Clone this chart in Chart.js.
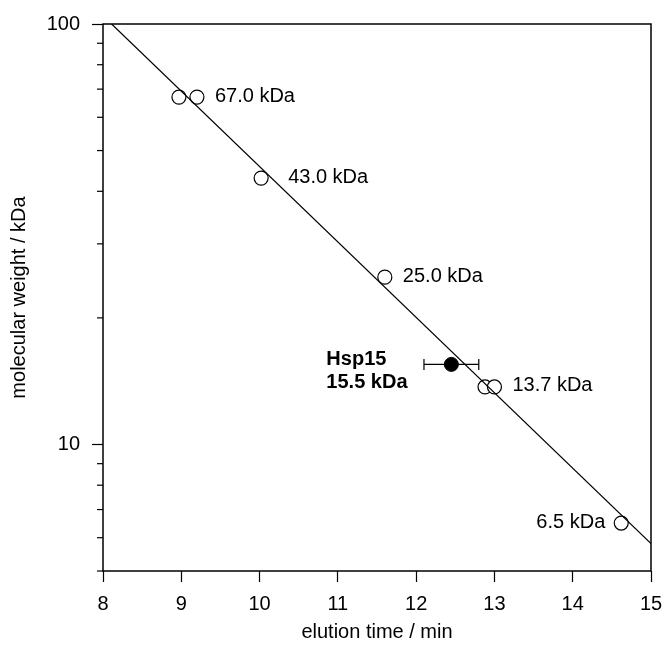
<!DOCTYPE html>
<html>
<head>
<meta charset="utf-8">
<script src="https://cdn.jsdelivr.net/npm/chart.js@4/dist/chart.umd.min.js"></script>
<style>
  html, body { margin: 0; padding: 0; background: #fff; }
  canvas { display: block; }
</style>
</head>
<body>
<canvas id="calib" width="664" height="649"></canvas>
<script>
// standard proteins (open circles)
const elutionTimes = [8.97, 9.2, 10.02, 11.6, 12.88, 13.0, 14.62];
const molWeights = [67, 67, 43, 25, 13.7, 13.7, 6.5];

// labels for the standards and which point they sit next to
const stdLabels = ['67.0 kDa', '43.0 kDa', '25.0 kDa', '13.7 kDa', '6.5 kDa'];
const stdLabelPoint = [1, 2, 3, 5, 6];

// Hsp15 (filled circle) with error bar on elution time
const hspTime = [12.45];
const hspWeight = [15.5];
const hspTimeLow = [12.1];
const hspTimeHigh = [12.8];
const hspLabel = ['Hsp15', '15.5 kDa'];

// calibration fit line
const fitTimes = [8.11, 15];
const fitWeights = [100, 5.81];

// axis ticks
const xTicks = [8, 9, 10, 11, 12, 13, 14, 15];
const yTicks = [5, 6, 7, 8, 9, 10, 20, 30, 40, 50, 60, 70, 80, 90, 100];
const yTickLabels = [10, 100];

const FONT = '"Liberation Sans", Arial, Helvetica, sans-serif';

// frame, minor ticks, error bar and point labels
const extrasPlugin = {
  id: 'extras',
  beforeDatasetsDraw(chart) {
    const { ctx, scales: { x, y } } = chart;
    ctx.save();
    ctx.strokeStyle = '#000';
    ctx.lineWidth = 1.2;
    hspTime.forEach((t, i) => {
      const py = y.getPixelForValue(hspWeight[i]);
      const x1 = x.getPixelForValue(hspTimeLow[i]);
      const x2 = x.getPixelForValue(hspTimeHigh[i]);
      ctx.beginPath();
      ctx.moveTo(x1, py); ctx.lineTo(x2, py);
      ctx.moveTo(x1, py - 5.5); ctx.lineTo(x1, py + 5.5);
      ctx.moveTo(x2, py - 5.5); ctx.lineTo(x2, py + 5.5);
      ctx.stroke();
    });
    ctx.restore();
  },
  afterDatasetsDraw(chart) {
    const { ctx, chartArea: a, scales: { x, y } } = chart;
    ctx.save();
    // box around plot
    ctx.strokeStyle = '#000';
    ctx.lineWidth = 1.5;
    ctx.strokeRect(a.left, a.top, a.right - a.left, a.bottom - a.top);

    // short minor ticks on the log axis
    ctx.lineWidth = 1.2;
    yTicks.filter(v => !yTickLabels.includes(v)).forEach(v => {
      const py = y.getPixelForValue(v);
      ctx.beginPath();
      ctx.moveTo(a.left - 6, py);
      ctx.lineTo(a.left, py);
      ctx.stroke();
    });

    // labels of the standards
    ctx.fillStyle = '#000';
    ctx.font = '20px ' + FONT;
    ctx.textBaseline = 'middle';
    stdLabels.forEach((txt, i) => {
      const k = stdLabelPoint[i];
      const px = x.getPixelForValue(elutionTimes[k]);
      const py = y.getPixelForValue(molWeights[k]);
      if (i === 4) {
        ctx.textAlign = 'right';
        ctx.fillText(txt, px - 16, py - 1);
      } else {
        ctx.textAlign = 'left';
        const gap = i === 1 ? 27 : 18;
        ctx.fillText(txt, px + gap, py - 1);
      }
    });

    // Hsp15 label in bold
    ctx.font = 'bold 20px ' + FONT;
    ctx.textAlign = 'left';
    ctx.textBaseline = 'alphabetic';
    const hx = x.getPixelForValue(hspTime[0]);
    const hy = y.getPixelForValue(hspWeight[0]);
    ctx.fillText(hspLabel[0], hx - 125, hy + 1);
    ctx.fillText(hspLabel[1], hx - 125, hy + 24);
    ctx.restore();
  }
};

const calibCtx = document.getElementById('calib').getContext('2d');
new Chart(calibCtx, {
  type: 'scatter',
  data: {
    datasets: [
      {
        type: 'line',
        data: fitTimes.map((t, i) => ({ x: t, y: fitWeights[i] })),
        borderColor: '#000',
        borderWidth: 1.2,
        pointRadius: 0,
        fill: false,
        order: 0
      },
      {
        data: elutionTimes.map((t, i) => ({ x: t, y: molWeights[i] })),
        pointRadius: 7,
        pointBackgroundColor: '#fff',
        pointBorderColor: '#000',
        pointBorderWidth: 1.2,
        order: 1
      },
      {
        data: hspTime.map((t, i) => ({ x: t, y: hspWeight[i] })),
        pointRadius: 7,
        pointBackgroundColor: '#000',
        pointBorderColor: '#000',
        pointBorderWidth: 1,
        order: 1
      }
    ]
  },
  options: {
    responsive: false,
    animation: false,
    devicePixelRatio: 1,
    layout: { padding: { top: 24, right: 13, bottom: 0, left: 0 } },
    plugins: { legend: { display: false }, tooltip: { enabled: false } },
    scales: {
      x: {
        type: 'linear',
        min: 8,
        max: 15,
        afterBuildTicks: s => { s.ticks = xTicks.map(v => ({ value: v })); },
        afterFit: s => { s.height = 78; s.paddingLeft = 0; s.paddingRight = 0; },
        border: { display: false },
        grid: { drawOnChartArea: false, drawTicks: true, tickLength: 11, tickColor: '#000', tickWidth: 1.2 },
        ticks: { color: '#000', padding: 10, font: { family: FONT, size: 20 } },
        title: {
          display: true,
          text: 'elution time / min',
          color: '#000',
          font: { family: FONT, size: 20 },
          padding: { top: 0, bottom: 5 }
        }
      },
      y: {
        type: 'logarithmic',
        min: 5,
        max: 100,
        afterBuildTicks: s => { s.ticks = yTicks.map(v => ({ value: v, major: yTickLabels.includes(v) })); },
        afterFit: s => { s.width = 103; s.paddingTop = 0; s.paddingBottom = 0; },
        border: { display: false },
        grid: {
          drawOnChartArea: false,
          drawTicks: true,
          tickLength: 11,
          tickWidth: 1.2,
          tickColor: c => (c.tick && yTickLabels.includes(c.tick.value)) ? '#000' : 'rgba(0,0,0,0)'
        },
        ticks: {
          color: '#000',
          padding: 12,
          autoSkip: false,
          font: { family: FONT, size: 20 },
          callback: v => yTickLabels.includes(v) ? String(v) : ''
        },
        title: {
          display: true,
          text: 'molecular weight / kDa',
          color: '#000',
          font: { family: FONT, size: 20 },
          padding: { top: 7, bottom: 0 }
        }
      }
    }
  },
  plugins: [extrasPlugin]
});
</script>
</body>
</html>
